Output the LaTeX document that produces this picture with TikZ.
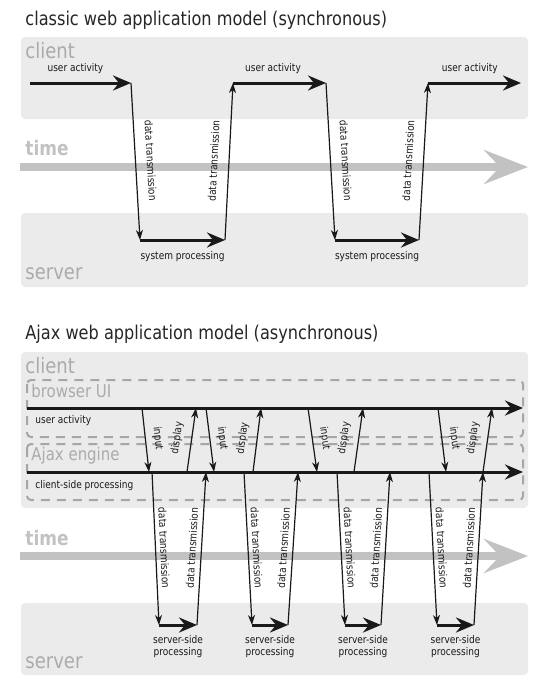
\documentclass[tikz,border=0pt]{standalone}
\usepackage{fontspec}
\setmainfont{DejaVu Sans}[FakeStretch=0.85]
\usepackage{tikz}
\usetikzlibrary{arrows.meta}

\definecolor{panelgray}{HTML}{EBEBEB}
\definecolor{zonegray}{HTML}{ABABAB}
\definecolor{timegray}{HTML}{C2C2C2}
\definecolor{dashgray}{HTML}{A6A6A6}

\begin{document}
\begin{tikzpicture}[
                    x=0.5pt, y=-0.5pt,
                    every node/.style={
                        inner sep=0pt,
                        font=\fontsize{5.3}{5.9}\selectfont,
                        text=black!90
                    },
                    panel/.style={fill=panelgray, rounded corners=2pt},
                    lane/.style={draw=dashgray, line width=1pt, dash pattern=on 4.5pt off 3.5pt, rounded corners=2pt},
                    heading/.style={anchor=west, font=\fontsize{9.5}{10.5}\selectfont, text=black!85},
                    zone/.style={anchor=west, font=\fontsize{10.6}{11.6}\selectfont, text=zonegray},
                    lanename/.style={anchor=west, font=\fontsize{8.8}{9.6}\selectfont, text=zonegray},
                    timename/.style={anchor=west, font=\fontsize{10}{11}\selectfont\bfseries, text=timegray},
                    activity/.style={draw=black!90, line width=1.5pt, -{Stealth[length=9pt, width=7.5pt, inset=3pt]}},
                    transfer/.style={draw=black!90, line width=0.6pt, -{Stealth[length=5pt, width=3.5pt, inset=1.5pt]}},
                    timeline/.style={draw=timegray, line width=4pt, -{Stealth[length=22pt, width=17pt, inset=8pt]}}
                ]
                    \useasboundingbox (0,0) rectangle (539,681);

                    % classic model
                    \node[heading] (title1) at (25,20) {classic web application model (synchronous)};
                    \fill[panel] (21,37) rectangle (528,119);
                    \fill[panel] (21,213) rectangle (528,287);
                    \node[zone] (client1) at (25,51) {client};
                    \node[timename] (time1) at (25,148) {time};
                    \node[zone] (server1) at (25,274) {server};
                    \coordinate (t1s) at (20,167);
                    \coordinate (t1e) at (528,167);
                    \draw[timeline] (t1s) -- (t1e);

                    \coordinate (a0) at (30,83);
                    \coordinate (a1) at (131,83);
                    \coordinate (b1) at (140,240);
                    \coordinate (b2) at (225,240);
                    \coordinate (a2) at (233,83);
                    \coordinate (a3) at (326,83);
                    \coordinate (b3) at (335,240);
                    \coordinate (b4) at (419,240);
                    \coordinate (a4) at (428,83);
                    \coordinate (a5) at (521,83);

                    % Edges
                    \draw[activity] (a0) -- node[pos=0.45, above, inner sep=4pt] (ua1) {user activity} (a1);
                    \draw[transfer] (a1) -- node[midway, sloped, above, inner sep=5.3pt] (dt1) {data transmission} (b1);
                    \draw[activity] (b1) -- node[midway, below, inner sep=5pt] (sp1) {system processing} (b2);
                    \draw[transfer] (b2) -- node[midway, sloped, above, inner sep=5.3pt] (dt2) {data transmission} (a2);
                    \draw[activity] (a2) -- node[pos=0.43, above, inner sep=4pt] (ua2) {user activity} (a3);
                    \draw[transfer] (a3) -- node[midway, sloped, above, inner sep=5.3pt] (dt3) {data transmission} (b3);
                    \draw[activity] (b3) -- node[midway, below, inner sep=5pt] (sp2) {system processing} (b4);
                    \draw[transfer] (b4) -- node[midway, sloped, above, inner sep=5.3pt] (dt4) {data transmission} (a4);
                    \draw[activity] (a4) -- node[pos=0.45, above, inner sep=4pt] (ua3) {user activity} (a5);

                    % Ajax model
                    \node[heading] (title2) at (25,334) {Ajax web application model (asynchronous)};
                    \fill[panel] (21,352) rectangle (528,508);
                    \fill[panel] (21,603) rectangle (528,675);
                    \node[zone] (client2) at (25,366) {client};
                    \draw[lane] (27,380) rectangle (523,437);
                    \draw[lane] (27,444) rectangle (523,500);
                    \node[lanename] (browser) at (31,391) {browser UI};
                    \node[lanename] (engine) at (31,456) {Ajax engine};
                    \node[anchor=west] (ua4) at (35,421) {user activity};
                    \node[anchor=west] (csp) at (35,486) {client-side processing};
                    \node[timename] (time2) at (25,538) {time};
                    \node[zone] (server2) at (25,663) {server};
                    \coordinate (t2s) at (20,556);
                    \coordinate (t2e) at (528,556);
                    \draw[timeline] (t2s) -- (t2e);

                    \coordinate (ui0) at (27,408);
                    \coordinate (ui1) at (523,408);
                    \coordinate (en0) at (27,472);
                    \coordinate (en1) at (523,472);
                    \draw[activity] (ui0) -- (ui1);
                    \draw[activity] (en0) -- (en1);

                    \coordinate (in1u) at (142,408);
                    \coordinate (in1e) at (149,472);
                    \coordinate (ds1e) at (187,472);
                    \coordinate (ds1u) at (196,408);
                    \coordinate (in2u) at (206,408);
                    \coordinate (in2e) at (214,472);
                    \coordinate (ds2e) at (253,472);
                    \coordinate (ds2u) at (261,408);
                    \coordinate (in3u) at (308,408);
                    \coordinate (in3e) at (317,472);
                    \coordinate (ds3e) at (354,472);
                    \coordinate (ds3u) at (363,408);
                    \coordinate (in4u) at (438,408);
                    \coordinate (in4e) at (446,472);
                    \coordinate (ds4e) at (483,472);
                    \coordinate (ds4u) at (492,408);

                    \draw[transfer] (in1u) -- node[midway, sloped, above, inner sep=3.3pt] (ip1) {input} (in1e);
                    \draw[transfer] (ds1e) -- node[midway, sloped, above, inner sep=4.3pt] (dp1) {display} (ds1u);
                    \draw[transfer] (in2u) -- node[midway, sloped, above, inner sep=3.3pt] (ip2) {input} (in2e);
                    \draw[transfer] (ds2e) -- node[midway, sloped, above, inner sep=4.3pt] (dp2) {display} (ds2u);
                    \draw[transfer] (in3u) -- node[midway, sloped, above, inner sep=3.3pt] (ip3) {input} (in3e);
                    \draw[transfer] (ds3e) -- node[midway, sloped, above, inner sep=4.3pt] (dp3) {display} (ds3u);
                    \draw[transfer] (in4u) -- node[midway, sloped, above, inner sep=3.3pt] (ip4) {input} (in4e);
                    \draw[transfer] (ds4e) -- node[midway, sloped, above, inner sep=4.3pt] (dp4) {display} (ds4u);

                    \coordinate (dn1) at (152,472);
                    \coordinate (sv1a) at (159,625);
                    \coordinate (sv1b) at (197,625);
                    \coordinate (rt1) at (206,472);
                    \coordinate (dn2) at (244,472);
                    \coordinate (sv2a) at (252,625);
                    \coordinate (sv2b) at (288,625);
                    \coordinate (rt2) at (298,472);
                    \coordinate (dn3) at (337,472);
                    \coordinate (sv3a) at (345,625);
                    \coordinate (sv3b) at (381,625);
                    \coordinate (rt3) at (390,472);
                    \coordinate (dn4) at (429,472);
                    \coordinate (sv4a) at (437,625);
                    \coordinate (sv4b) at (474,625);
                    \coordinate (rt4) at (483,472);

                    \draw[transfer] (dn1) -- node[midway, sloped, above, inner sep=2pt] (dd1) {data transmission} (sv1a);
                    \draw[activity] (sv1a) -- node[midway, below, inner sep=4.5pt, align=center] (ssp1) {server-side\\processing} (sv1b);
                    \draw[transfer] (sv1b) -- node[midway, sloped, above, inner sep=2.4pt] (du1) {data transmission} (rt1);
                    \draw[transfer] (dn2) -- node[midway, sloped, above, inner sep=2pt] (dd2) {data transmission} (sv2a);
                    \draw[activity] (sv2a) -- node[midway, below, inner sep=4.5pt, align=center] (ssp2) {server-side\\processing} (sv2b);
                    \draw[transfer] (sv2b) -- node[midway, sloped, above, inner sep=2.4pt] (du2) {data transmission} (rt2);
                    \draw[transfer] (dn3) -- node[midway, sloped, above, inner sep=2pt] (dd3) {data transmission} (sv3a);
                    \draw[activity] (sv3a) -- node[midway, below, inner sep=4.5pt, align=center] (ssp3) {server-side\\processing} (sv3b);
                    \draw[transfer] (sv3b) -- node[midway, sloped, above, inner sep=2.4pt] (du3) {data transmission} (rt3);
                    \draw[transfer] (dn4) -- node[midway, sloped, above, inner sep=2pt] (dd4) {data transmission} (sv4a);
                    \draw[activity] (sv4a) -- node[midway, below, inner sep=4.5pt, align=center] (ssp4) {server-side\\processing} (sv4b);
                    \draw[transfer] (sv4b) -- node[midway, sloped, above, inner sep=2.4pt] (du4) {data transmission} (rt4);
                \end{tikzpicture}
\end{document}
